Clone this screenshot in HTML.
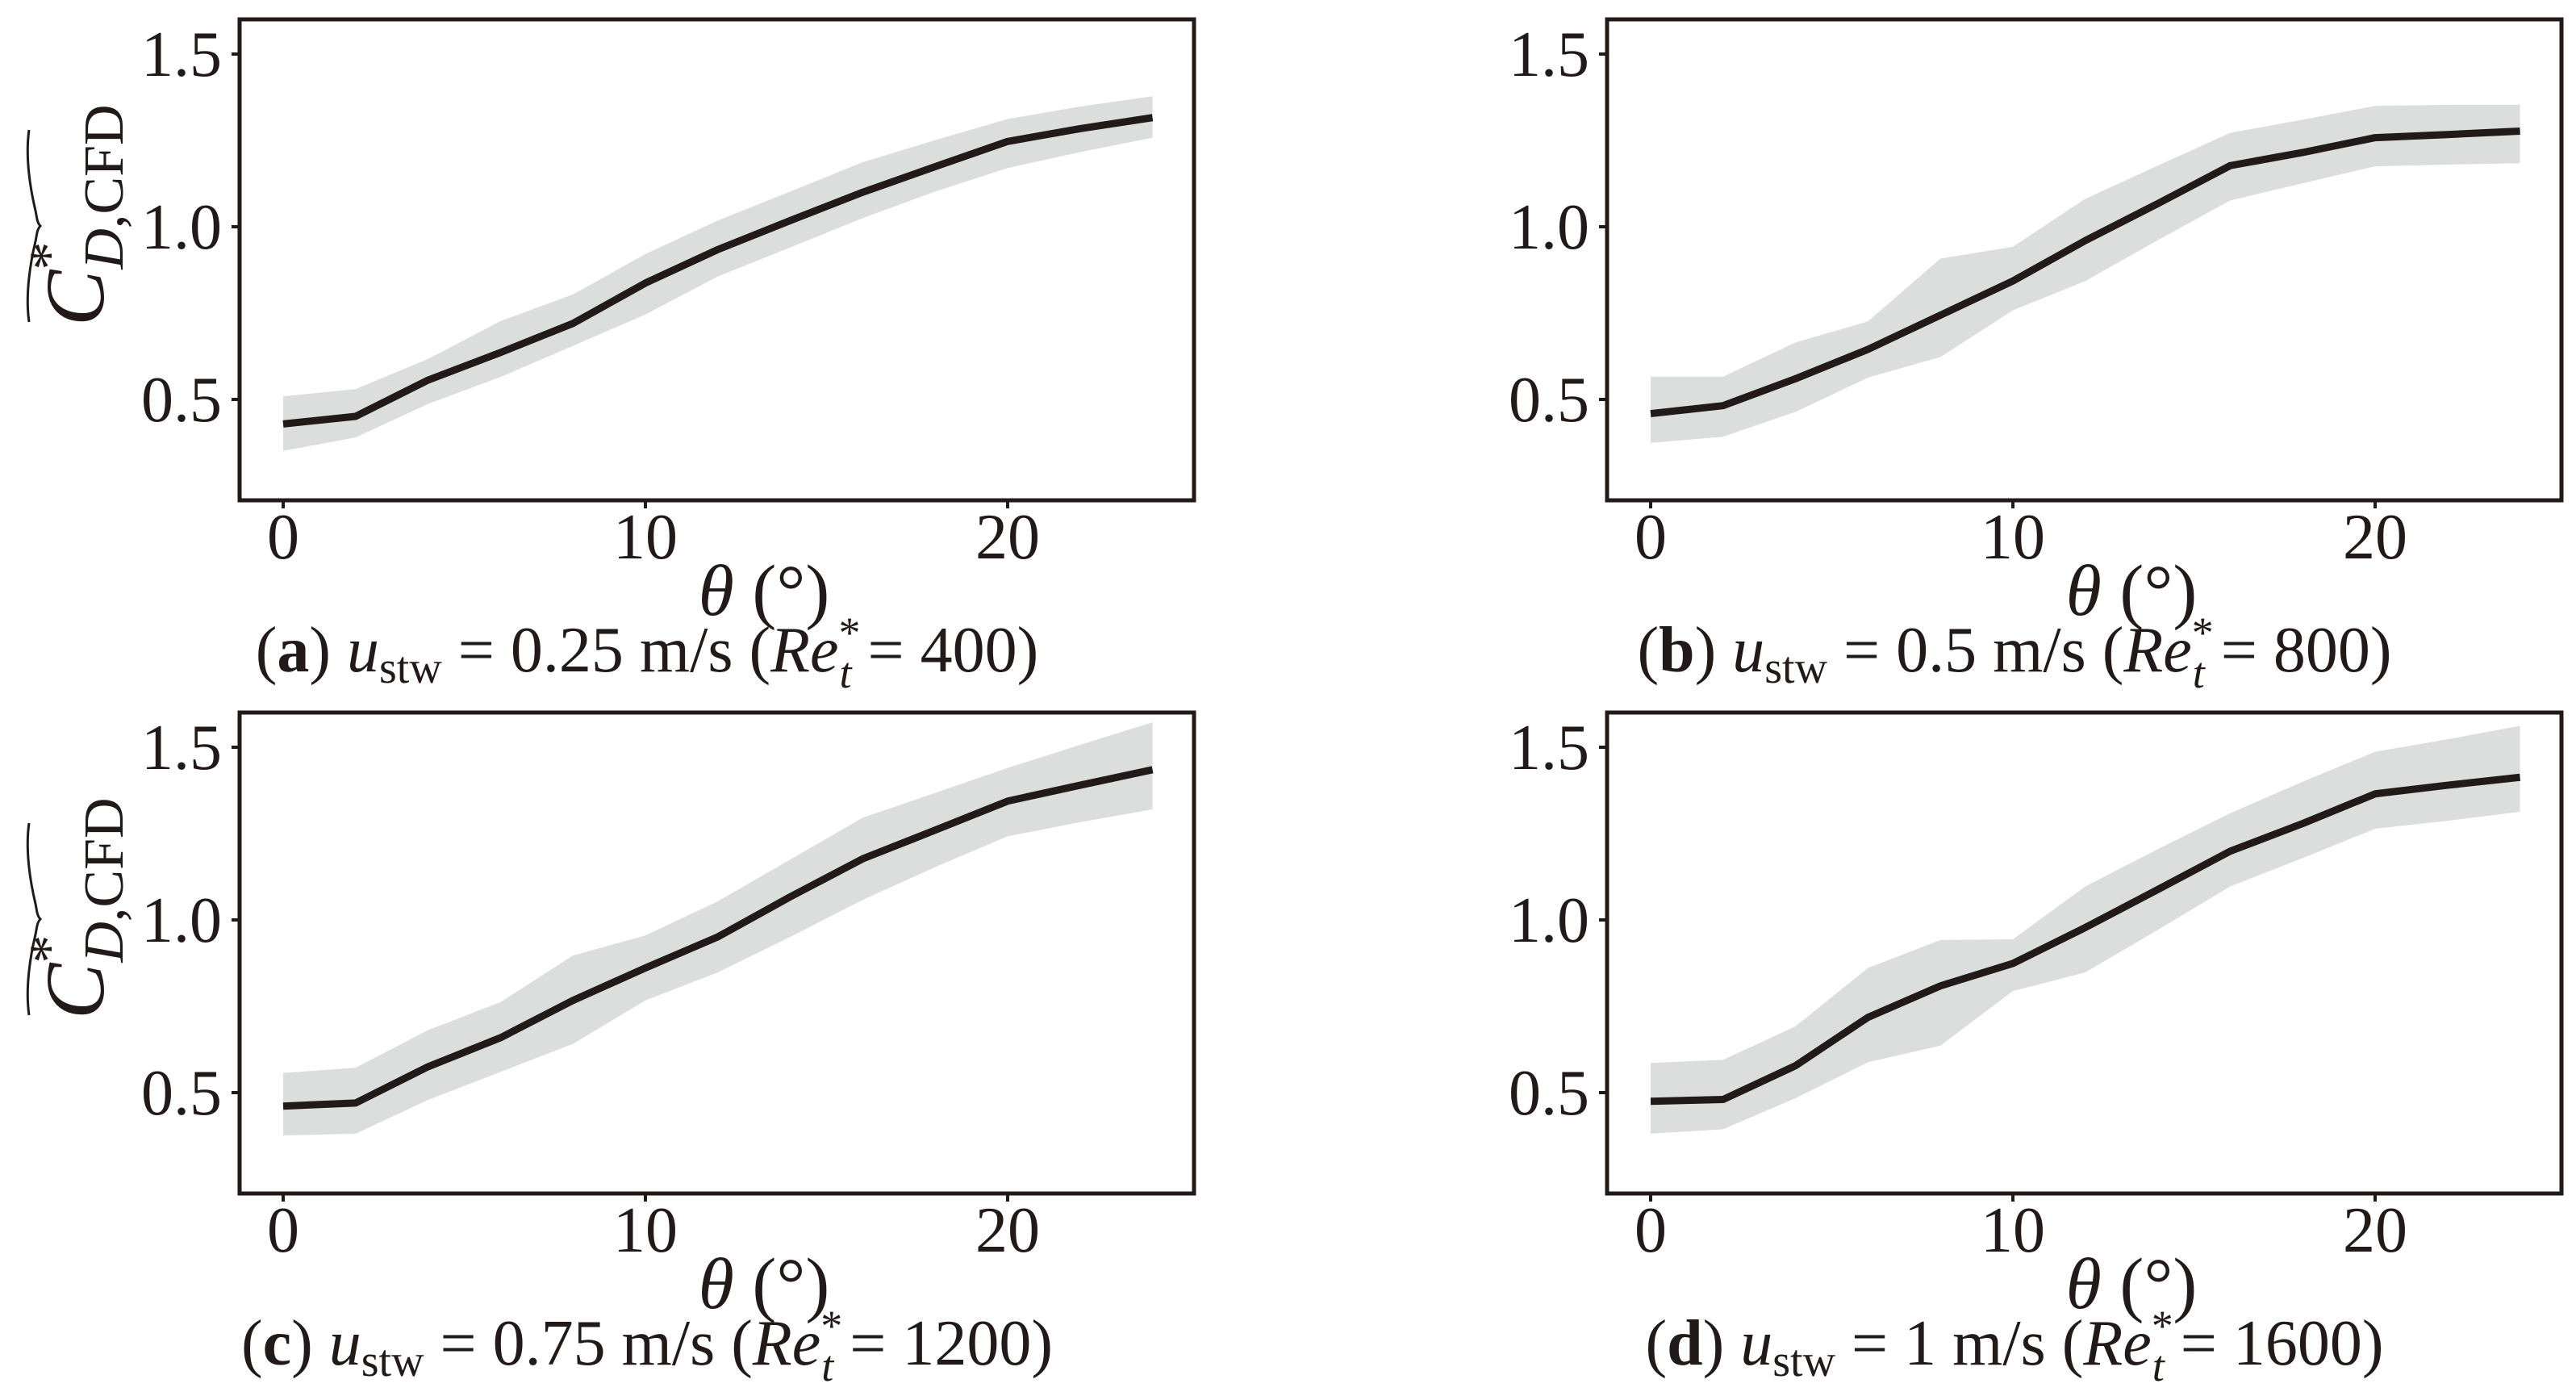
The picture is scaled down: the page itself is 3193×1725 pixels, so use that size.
<!DOCTYPE html>
<html><head><meta charset="utf-8"><style>
html,body{margin:0;padding:0;background:#fff;}
svg{display:block;font-family:"Liberation Serif",serif;}
</style></head><body>
<svg id="fig" width="3193" height="1725" viewBox="0 0 3193 1725" xmlns="http://www.w3.org/2000/svg"></svg>
<script>
const thetaCats = [0,2,4,6,8,10,12,14,16,18,20,22,24];
const xTicks = [0,10,20];
const yTicks = [0.5,1.0,1.5];
const yTickLabels = ["0.5","1.0","1.5"];
const xTickLabels = ["0","10","20"];
const meanA  = [0.429,0.451,0.556,0.636,0.720,0.837,0.934,1.018,1.100,1.174,1.247,1.284,1.316];
const upperA = [0.509,0.530,0.617,0.727,0.804,0.921,1.018,1.102,1.187,1.251,1.312,1.348,1.378];
const lowerA = [0.351,0.390,0.487,0.565,0.655,0.746,0.856,0.940,1.025,1.102,1.170,1.216,1.258];
const meanB  = [0.459,0.482,0.560,0.645,0.744,0.843,0.960,1.067,1.177,1.215,1.258,1.267,1.277];
const upperB = [0.566,0.566,0.665,0.726,0.908,0.942,1.081,1.177,1.272,1.310,1.350,1.353,1.353];
const lowerB = [0.374,0.392,0.464,0.563,0.623,0.758,0.843,0.961,1.076,1.126,1.175,1.180,1.184];
const meanC  = [0.461,0.470,0.575,0.659,0.767,0.861,0.951,1.067,1.177,1.260,1.344,1.390,1.435];
const upperC = [0.557,0.572,0.681,0.762,0.897,0.955,1.054,1.175,1.296,1.368,1.440,1.507,1.572];
const lowerC = [0.376,0.381,0.479,0.560,0.641,0.767,0.848,0.951,1.058,1.153,1.242,1.283,1.320];
const meanD  = [0.475,0.480,0.578,0.718,0.809,0.874,0.978,1.088,1.199,1.279,1.365,1.390,1.413];
const upperD = [0.586,0.595,0.692,0.861,0.942,0.944,1.097,1.205,1.309,1.400,1.487,1.523,1.562];
const lowerD = [0.381,0.394,0.484,0.588,0.636,0.794,0.848,0.971,1.097,1.179,1.264,1.287,1.313];
const panelLetters = ["a","b","c","d"];
const speeds = ["0.25","0.5","0.75","1"];
const reynolds = ["400","800","1200","1600"];

const NS="http://www.w3.org/2000/svg";
const svg=document.getElementById('fig');
function mk(tag,attrs,parent){const e=document.createElementNS(NS,tag);for(const k in attrs)e.setAttribute(k,attrs[k]);(parent||svg).appendChild(e);return e;}

const panels=[
 {ox:297,oy:24,mean:meanA,up:upperA,lo:lowerA,ylab:true},
 {ox:1992,oy:24,mean:meanB,up:upperB,lo:lowerB,ylab:false},
 {ox:297,oy:883,mean:meanC,up:upperC,lo:lowerC,ylab:true},
 {ox:1992,oy:883,mean:meanD,up:upperD,lo:lowerD,ylab:false}
];
panels.forEach((p,i)=>{
  const g=mk('g',{});
  
  
  const W=1183,H=596;
  const xs=v=>p.ox+54+v*44.9;
  const ys=v=>p.oy+43+(1.5-v)*428;
  let d='M'+thetaCats.map((t,k)=>xs(t)+','+ys(p.up[k])).join(' L');
  for(let k=thetaCats.length-1;k>=0;k--) d+=' L'+xs(thetaCats[k])+','+ys(p.lo[k]);
  const band=mk('path',{d:d+'Z',fill:'#dcdedd'},g);
  
  
  const line=mk('polyline',{points:thetaCats.map((t,k)=>xs(t)+','+ys(p.mean[k])).join(' '),fill:'none',stroke:'#221a18','stroke-width':9,'stroke-linejoin':'round'},g);
  
  
  const fr=mk('rect',{x:p.ox,y:p.oy,width:W,height:H,fill:'none',stroke:'#221a18','stroke-width':5},g);
  
  
  xTicks.forEach((t,k)=>{
    mk('line',{x1:xs(t),x2:xs(t),y1:p.oy+H,y2:p.oy+H+10,stroke:'#221a18','stroke-width':4},g);
    const tx=mk('text',{x:xs(t),y:p.oy+H+72,'font-size':80,'text-anchor':'middle',fill:'#221a18'},g);
    tx.textContent=xTickLabels[k];
    
    
  });
  yTicks.forEach((t,k)=>{
    mk('line',{x1:p.ox-10,x2:p.ox,y1:ys(t),y2:ys(t),stroke:'#221a18','stroke-width':4},g);
    const ty=mk('text',{x:p.ox-22,y:ys(t)+27,'font-size':80,'text-anchor':'end',fill:'#221a18'},g);
    ty.textContent=yTickLabels[k];
    
    
  });
  const xl=mk('text',{x:p.ox+650,y:p.oy+H+142,'font-size':90,'text-anchor':'middle',fill:'#221a18'},g);
  xl.innerHTML='<tspan font-style="italic">θ</tspan> (°)';
  
  
  const cap=mk('text',{x:p.ox+505,y:p.oy+H+212,'font-size':80,'text-anchor':'middle',fill:'#221a18'},g);
  cap.innerHTML='(<tspan font-weight="bold">'+panelLetters[i]+'</tspan>) <tspan font-style="italic">u</tspan><tspan font-size="56" dy="14">stw</tspan><tspan dy="-14"> = '+speeds[i]+' m/s (</tspan><tspan font-style="italic">Re</tspan><tspan font-size="54" dy="-30">*</tspan><tspan font-size="54" font-style="italic" dx="-26" dy="50">t</tspan><tspan dy="-20">  =  '+reynolds[i]+')</tspan>';
  
  
  if(p.ylab){
    const yl=mk('g',{transform:'translate(128,'+(p.oy+380)+') rotate(-90)'},g);
    
    
    const t=mk('text',{x:0,y:0,'font-size':104,fill:'#221a18'},yl);
    t.innerHTML='<tspan font-style="italic">C</tspan><tspan font-size="70" dy="-44">*</tspan><tspan font-size="70" dx="-34" dy="68"><tspan font-style="italic">D</tspan>,CFD</tspan>';
    mk('path',{d:'M5,-92 C40,-97 80,-90 105,-84 C115,-82 120,-82 124,-78 C128,-82 133,-82 143,-84 C168,-90 208,-97 243,-92',fill:'none',stroke:'#221a18','stroke-width':3},yl);
  }
});
</script>
</body></html>
